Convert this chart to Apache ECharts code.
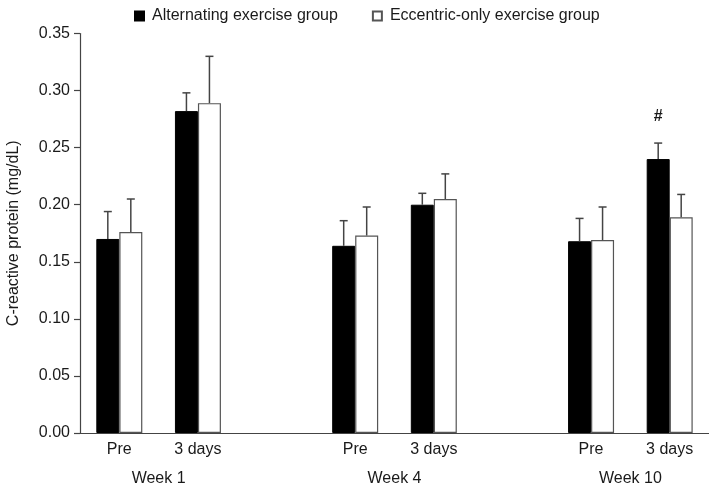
<!DOCTYPE html>
<html>
<head>
<meta charset="utf-8">
<script src="https://cdn.jsdelivr.net/npm/echarts@6/dist/echarts.min.js"></script>
<style>
html,body{margin:0;padding:0;background:#fff;}
#chart{width:709px;height:493px;}
</style>
</head>
<body>
<div id="chart"></div>
<script>
// ---- data ----
var categories = ['Pre', '3 days', '', 'Pre', '3 days', '', 'Pre', '3 days'];
var weekLabels = ['Week 1', 'Week 4', 'Week 10'];
var weekGroups = [[0, 1], [3, 4], [6, 7]];
var seriesNames = ['Alternating exercise group', 'Eccentric-only exercise group'];
var alternatingMean = [0.170, 0.282, null, 0.164, 0.200, null, 0.168, 0.240];
var alternatingSD   = [0.024, 0.016, null, 0.022, 0.010, null, 0.020, 0.014];
var eccentricMean   = [0.176, 0.289, null, 0.173, 0.205, null, 0.169, 0.189];
var eccentricSD     = [0.029, 0.041, null, 0.025, 0.022, null, 0.029, 0.020];
var alternatingMarks = ['', '', '', '', '', '', '', '#'];
var yTicks = [0, 0.05, 0.10, 0.15, 0.20, 0.25, 0.30, 0.35];

// ---- chart ----
var FONT = '"Liberation Sans", Arial, sans-serif';
var FS = 16;
var TXT = '#1a1a1a';
var AX = '#444';
var BAR_W = 23;

var weekAt = {};
weekGroups.forEach(function (g, k) { weekAt[(g[0] + g[1]) / 2 + 0.5] = weekLabels[k]; });

function errData(mean, sd, marks) {
  return mean.map(function (m, i) {
    return m == null ? [i, null, null, ''] : [i, m, m + sd[i], marks ? marks[i] : ''];
  });
}

function errRender(side) {
  return function (params, api) {
    var m = api.value(1);
    if (m == null || isNaN(m)) return null;
    var p0 = api.coord([api.value(0), m]);
    var p1 = api.coord([api.value(0), api.value(2)]);
    var x = p0[0] + side * BAR_W / 2;
    var cap = 4;
    var children = [
      {type: 'line', shape: {x1: x, y1: p0[1], x2: x, y2: p1[1]}, style: {stroke: AX, lineWidth: 1.5}},
      {type: 'line', shape: {x1: x - cap, y1: p1[1], x2: x + cap, y2: p1[1]}, style: {stroke: AX, lineWidth: 1.5}}
    ];
    var mark = api.value(3);
    if (mark) {
      children.push({type: 'text', style: {text: mark, x: x, y: p1[1] - 26, align: 'center', verticalAlign: 'middle',
        font: 'bold ' + FS + 'px ' + FONT, fill: TXT}});
    }
    return {type: 'group', children: children};
  };
}

var chart = echarts.init(document.getElementById('chart'), null, {renderer: 'canvas'});
chart.setOption({
  animation: false,
  backgroundColor: '#fff',
  textStyle: {fontFamily: FONT},
  legend: {
    top: 3, left: 129, itemWidth: 9, itemHeight: 9, itemGap: 34,
    textStyle: {fontSize: FS, color: TXT, fontFamily: FONT, padding: [0, 0, 0, 3]},
    data: [{name: seriesNames[0], icon: 'rect'}, {name: seriesNames[1], icon: 'rect'}]
  },
  grid: {left: 80, right: 0, top: 33.5, bottom: 60, containLabel: false, outerBoundsMode: 'none'},
  xAxis: [{
    type: 'category', data: categories,
    axisLine: {lineStyle: {color: AX, width: 1.2}},
    axisTick: {show: false},
    axisLabel: {interval: 0, fontSize: FS, color: TXT, margin: 9, fontFamily: FONT},
    splitLine: {show: false}
  }, {
    type: 'value', position: 'bottom', min: 0, max: categories.length, interval: 1,
    axisLine: {show: false}, axisTick: {show: false}, splitLine: {show: false},
    axisLabel: {fontSize: FS, color: TXT, margin: 38, fontFamily: FONT, showMinLabel: true, showMaxLabel: true,
      formatter: function (v) { return weekAt[v] || ''; }}
  }],
  yAxis: {
    type: 'value', min: yTicks[0], max: yTicks[yTicks.length - 1], interval: 0.05,
    name: 'C-reactive protein (mg/dL)', nameLocation: 'middle', nameGap: 58,
    nameTextStyle: {fontSize: FS, color: TXT, fontFamily: FONT},
    axisLine: {show: true, lineStyle: {color: AX, width: 1.2}},
    axisTick: {show: true, length: 6, lineStyle: {color: AX, width: 1.2}},
    axisLabel: {fontSize: FS, color: TXT, margin: 10, fontFamily: FONT,
      formatter: function (v) { return v.toFixed(2); }},
    splitLine: {show: false}
  },
  series: [{
    name: seriesNames[0], type: 'bar', data: alternatingMean, barWidth: BAR_W, barGap: '0%',
    itemStyle: {color: '#000', borderColor: '#000', borderWidth: 1}
  }, {
    name: seriesNames[1], type: 'bar', data: eccentricMean, barWidth: BAR_W, barGap: '0%',
    itemStyle: {color: '#fff', borderColor: '#555', borderWidth: 1.2}
  }, {
    type: 'custom', renderItem: errRender(-1), data: errData(alternatingMean, alternatingSD, alternatingMarks),
    encode: {x: 0, y: [1, 2]}, z: 5, silent: true
  }, {
    type: 'custom', renderItem: errRender(1), data: errData(eccentricMean, eccentricSD),
    encode: {x: 0, y: [1, 2]}, z: 5, silent: true
  }]
});
</script>
</body>
</html>
